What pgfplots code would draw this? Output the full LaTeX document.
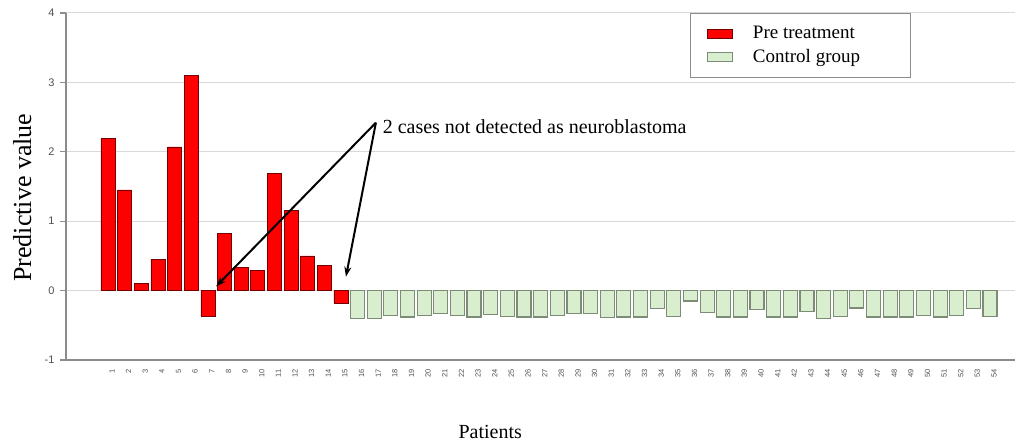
\documentclass[border=0pt]{standalone}
\usepackage{pgfplots}
\pgfplotsset{compat=1.18}
\usepackage{fontspec}
\setmainfont{Liberation Serif}
\newfontfamily\arial{Liberation Sans}
\usetikzlibrary{arrows.meta}
\definecolor{ctrlfill}{RGB}{217,238,206}
\definecolor{ctrldraw}{RGB}{125,140,118}
\definecolor{axgray}{RGB}{140,140,140}
\definecolor{tickgray}{RGB}{80,80,80}
\begin{document}
\begin{tikzpicture}
\begin{axis}[
  name=ax,
  scale only axis,
  width=949bp, height=347bp,
  xmin=-1.52, xmax=55.5,
  ymin=-1, ymax=4,
  ytick={-1,0,1,2,3,4},
  xtick={1,...,54},
  axis lines*=left,
  axis line style={axgray, line width=1.6bp},
  ymajorgrids,
  grid style={gray!30, line width=1bp},
  tick align=outside,
  major tick length=6bp,
  ytick style={axgray, line width=1.2bp},
  xtick style={draw=none},
  /pgf/number format/assume math mode=true,
  yticklabel style={font=\arial\fontsize{11bp}{12bp}\selectfont, text=tickgray, xshift=-2bp},
  xticklabel style={font=\arial\fontsize{7.5bp}{8bp}\selectfont, text=tickgray, rotate=90, anchor=east, yshift=-4bp},
  ylabel={Predictive value},
  ylabel style={font=\fontsize{26bp}{30bp}\selectfont, at={(axis description cs:-0.046,0.468)}, anchor=center},
  xlabel={Patients},
  xlabel style={font=\fontsize{20bp}{22bp}\selectfont, at={(axis description cs:0.447,-0.2075)}, anchor=center},
  legend style={at={(axis description cs:0.6575,1)}, anchor=north west, draw=axgray, line width=0.8bp,
    font=\fontsize{19bp}{21bp}\selectfont, inner xsep=17bp, inner ysep=11bp, row sep=5bp, column sep=18bp},
  legend cell align=left,
  legend image code/.code={\draw[#1, line width=0.6bp] (0bp,-4.5bp) rectangle (25bp,4.5bp);},
  clip=false,
]
\addplot[ybar, bar width=14bp, bar shift=0pt, fill=red, draw=red!45!black, line width=0.6bp] coordinates {
(1,2.19) (2,1.45) (3,0.10) (4,0.45) (5,2.07) (6,3.10) (7,-0.37) (8,0.82)
(9,0.33) (10,0.29) (11,1.69) (12,1.16) (13,0.50) (14,0.36) (15,-0.18)
};
\addlegendentry{\makebox[138bp][l]{Pre treatment}}
\addplot[ybar, bar width=14bp, bar shift=0pt, fill=ctrlfill, draw=ctrldraw, line width=1.2bp] coordinates {
(16,-0.40) (17,-0.40) (18,-0.36) (19,-0.38) (20,-0.36) (21,-0.33) (22,-0.36)
(23,-0.38) (24,-0.35) (25,-0.37) (26,-0.38) (27,-0.38) (28,-0.36) (29,-0.33)
(30,-0.33) (31,-0.39) (32,-0.38) (33,-0.38) (34,-0.26) (35,-0.37) (36,-0.15)
(37,-0.32) (38,-0.38) (39,-0.38) (40,-0.27) (41,-0.38) (42,-0.38) (43,-0.30)
(44,-0.40) (45,-0.37) (46,-0.25) (47,-0.38) (48,-0.38) (49,-0.38) (50,-0.36)
(51,-0.38) (52,-0.36) (53,-0.26) (54,-0.37)
};
\addlegendentry{\makebox[138bp][l]{Control group}}
\draw[-{Stealth[length=10bp,width=7bp]}, line width=2bp] (axis cs:17.1,2.42) -- (axis cs:7.5,0.06);
\draw[-{Stealth[length=10bp,width=7bp]}, line width=2bp] (axis cs:17.1,2.42) -- (axis cs:15.3,0.20);
\node[anchor=west, inner sep=0pt, font=\fontsize{20bp}{22bp}\selectfont] at (axis cs:17.5,2.36) {2 cases not detected as neuroblastoma};
\end{axis}
\pgfresetboundingbox
\path[use as bounding box] ([shift={(-66bp,-81bp)}]ax.south west) rectangle ([shift={(6bp,13bp)}]ax.north east);
\end{tikzpicture}
\end{document}
